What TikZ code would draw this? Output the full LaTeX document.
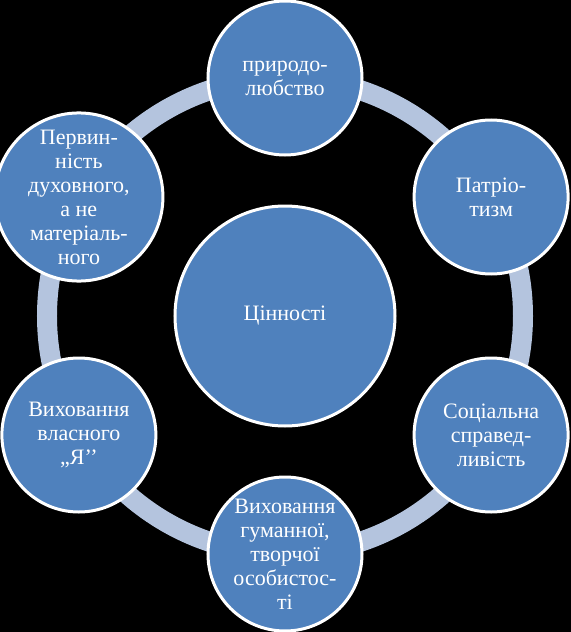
\documentclass[tikz,border=0pt]{standalone}
\usepackage{fontspec}
\setmainfont{LiberationSerif}[Extension=.ttf,UprightFont=*-Regular,BoldFont=*-Bold]
\usetikzlibrary{positioning}

\definecolor{valblue}{HTML}{4F81BD}
\definecolor{ringblue}{HTML}{B4C4DE}

\begin{document}
\begin{tikzpicture}[x=0.5pt,y=0.5pt,font=\rmfamily\fontsize{11}{12}\selectfont]
            % стилі вузлів
            \tikzstyle{value}=[circle,fill=valblue,draw=white,line width=1.5pt,minimum size=77pt,inner sep=0pt,align=center,text=white]
            \tikzstyle{core}=[value,minimum size=110pt]

            % фон і кільце
            \useasboundingbox (-285,-316) rectangle (286,316);
            \fill[black] (-285,-316) rectangle (286,316);
            \draw[ringblue,line width=10pt] (0,0) circle (238);

            % вузли
            \node[core] (C) at (0,0) {Цінності};
            \node[value] (N) at (90:238) {природо-\\любство};
            \node[value] (NE) at (30:238) {Патріо-\\тизм};
            \node[value] (SE) at (-30:238) {Соціальна\\справед-\\ливість};
            \node[value] (S) at (-90:238) {Виховання\\гуманної,\\творчої\\особистос-\\ті};
            \node[value] (SW) at (-150:238) {Виховання\\власного\\„Я’’};
            \node[value] (NW) at (150:238) {Первин-\\ність\\духовного,\\а не\\матеріаль-\\ного};
        \end{tikzpicture}
\end{document}
